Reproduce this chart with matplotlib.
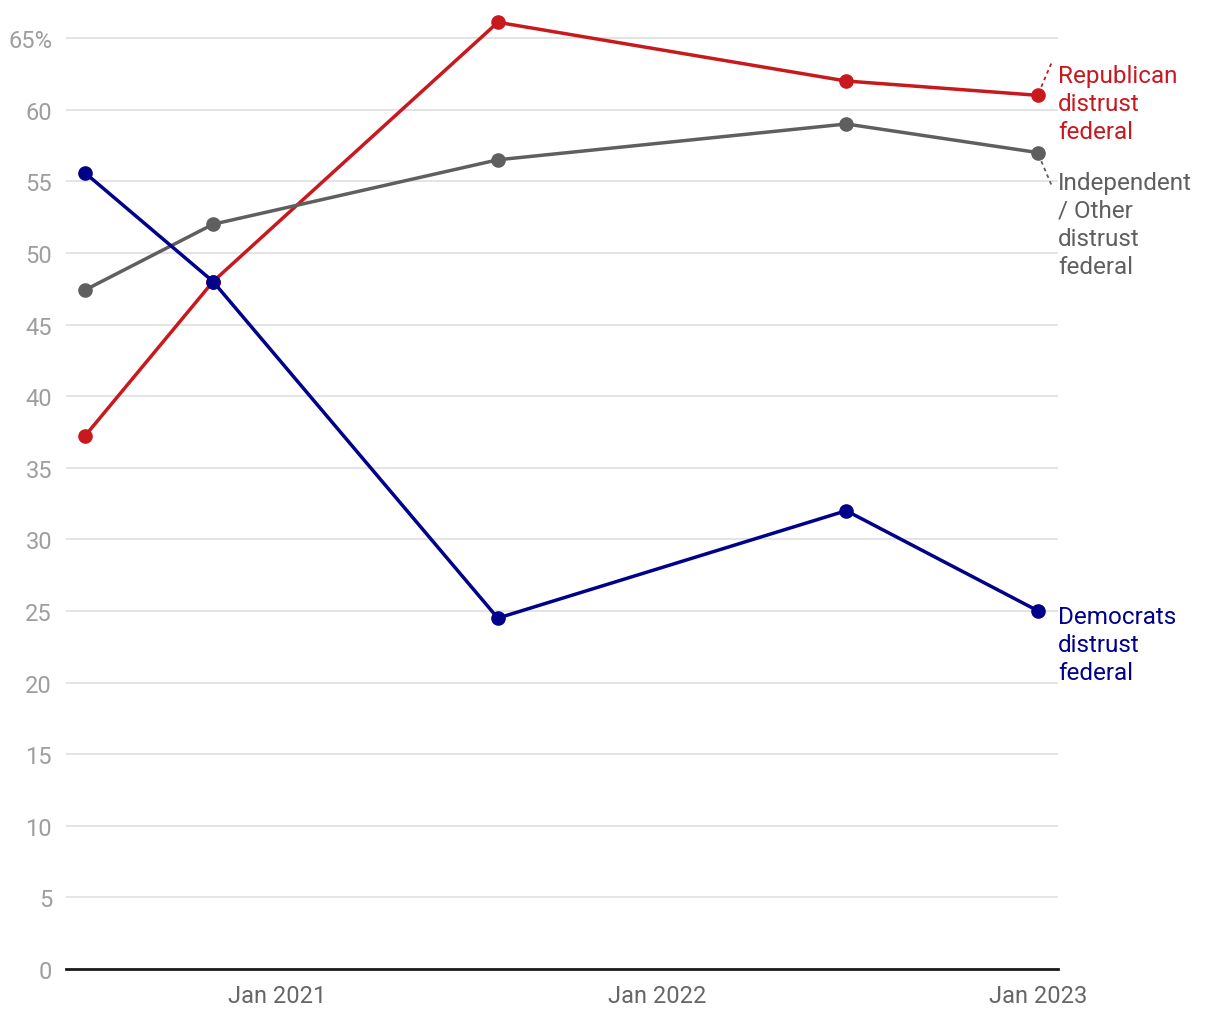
import datetime as dt
import matplotlib
matplotlib.use("Agg")
import matplotlib.pyplot as plt
import matplotlib.dates as mdates

dates = [dt.date(2020, 7, 1), dt.date(2020, 11, 1), dt.date(2021, 8, 1),
         dt.date(2022, 7, 1), dt.date(2023, 1, 1)]
republican = [37.2, 48.0, 66.1, 62.0, 61.0]
independent = [47.4, 52.0, 56.5, 59.0, 57.0]
democrats = [55.6, 48.0, 24.5, 32.0, 25.0]

series = [
    ("Republican\ndistrust\nfederal", republican, "#c8191f"),
    ("Independent\n/ Other\ndistrust\nfederal", independent, "#5f5f5f"),
    ("Democrats\ndistrust\nfederal", democrats, "#00008b"),
]

plt.rcParams["font.family"] = ["Roboto", "DejaVu Sans"]

fig = plt.figure(figsize=(12.2, 10.2), dpi=100)
ax = fig.add_axes([0.0541, 0.049, 0.8131, 0.9408])

for name, vals, color in series:
    ax.plot(dates, vals, color=color, lw=2.5, marker="o", ms=9.5,
            clip_on=False, zorder=3)

ax.set_ylim(0, 67)
ax.set_xlim(dt.date(2020, 6, 13), dt.date(2023, 1, 20))
yt = list(range(0, 70, 5))
ax.set_yticks(yt)
ax.set_yticklabels([str(v) if v != 65 else "65%" for v in yt])
ax.xaxis.set_major_locator(mdates.YearLocator())
ax.xaxis.set_major_formatter(mdates.DateFormatter("Jan %Y"))

ax.grid(axis="y", color="#e2e2e2", lw=1.3)
ax.set_axisbelow(True)
for s in ["top", "right", "left"]:
    ax.spines[s].set_visible(False)
ax.spines["bottom"].set_color("#1a1a1a")
ax.spines["bottom"].set_linewidth(2)
ax.spines["bottom"].set_zorder(4)
ax.tick_params(axis="y", length=0, pad=10, labelsize=17, labelcolor="#9e9e9e")
ax.tick_params(axis="x", length=0, pad=11, labelsize=17, labelcolor="#666666")

# end labels with dotted leaders
label_pos = [63.2, 55.75, 25.45]
for (name, vals, color), ly in zip(series, label_pos):
    ax.text(1.0, ly, name, transform=ax.get_yaxis_transform(), color=color,
            fontsize=17.5, va="top", ha="left", linespacing=1.29)

xr = mdates.date2num(dates[-1])
ax.plot([xr + 3, xr + 13], [61.6, 63.3], color="#c8191f", lw=1.3,
        ls=(0, (2, 2)), clip_on=False)
ax.plot([xr + 3, xr + 13], [56.4, 54.7], color="#5f5f5f", lw=1.3,
        ls=(0, (2, 2)), clip_on=False)

fig.savefig("out.png", dpi=100)
plt.close(fig)
